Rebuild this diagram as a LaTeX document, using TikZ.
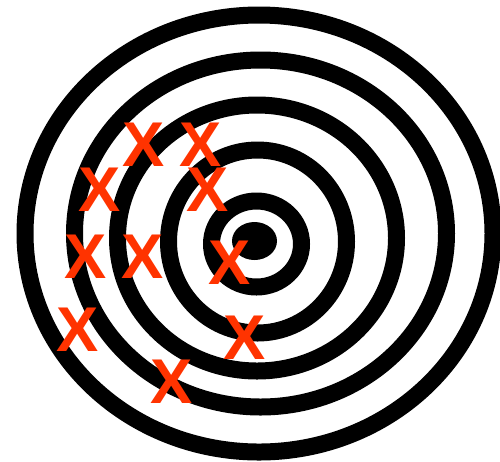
\documentclass[tikz,border=0pt]{standalone}
\usepackage{fontspec}
\newfontfamily\hitfont{Liberation Sans}
\usepackage{tikz}
\definecolor{hitred}{RGB}{255,51,0}

\begin{document}
\begin{tikzpicture}[x=0.02cm,y=-0.02cm,
  ring/.style={draw=black,line width=0.34cm},
  hit/.style={text=hitred,inner sep=0pt,font=\hitfont\bfseries\fontsize{36}{36}\selectfont}]
  \useasboundingbox (0,0) rectangle (500,461);
  % rings, outer to inner
  \draw[ring] (259,233.5) ellipse [x radius=234, y radius=218.5];
  \draw[ring] (260.5,233.5) ellipse [x radius=186, y radius=173.5];
  \draw[ring] (257,238) ellipse [x radius=139.5, y radius=133];
  \draw[ring] (257.5,241.5) ellipse [x radius=89, y radius=91.5];
  \draw[ring] (256.5,244) ellipse [x radius=45, y radius=43];
  % bull
  \fill (254.5,241) ellipse [x radius=22.5, y radius=19];
  % hits
  \foreach \px/\py [count=\i] in {144/145, 201/145, 100/190, 208/190,
      86/257, 143/257, 230/263, 78/330, 245/338, 172/382}
    \node[hit] (hit\i) at (\px,\py) {X};
\end{tikzpicture}
\end{document}
